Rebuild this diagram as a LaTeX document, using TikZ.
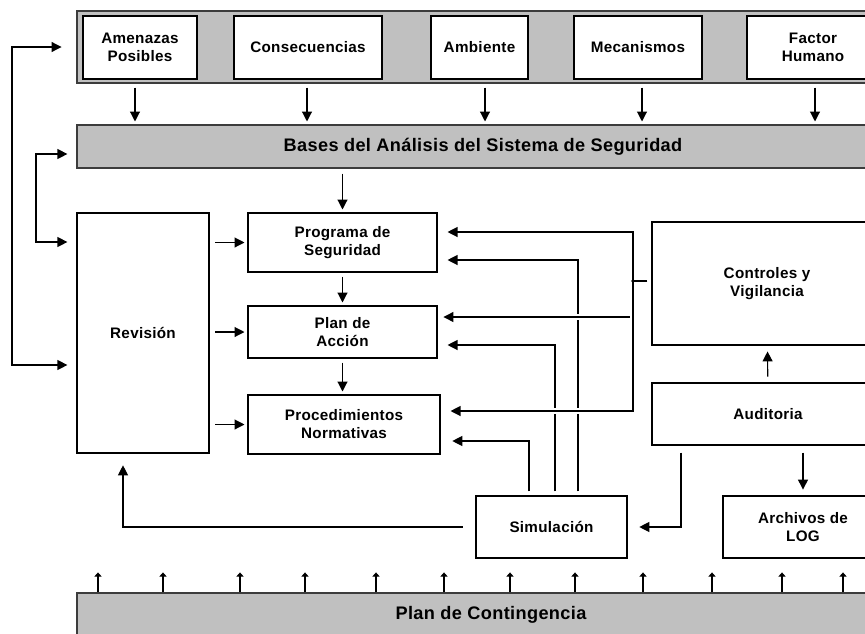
\documentclass[tikz,border=0pt]{standalone}
\usepackage{fontspec}
\setmainfont[LetterSpace=2]{Liberation Sans}
\usepackage{xcolor}
\definecolor{bandgray}{RGB}{192, 192, 192}
\definecolor{edgegray}{RGB}{60, 60, 60}
\usepackage{tikz}
\usetikzlibrary{arrows.meta, positioning, calc}

\begin{document}
\begin{tikzpicture}[x=0.03cm, y=-0.03cm, >={Triangle[length=8.5pt, width=8.5pt]},
    sz/.style 2 args={minimum width=#1*0.03cm, minimum height=#2*0.03cm},
    box/.style={draw, fill=white, line width=1pt, inner sep=0pt, align=center,
        font=\fontsize{13}{15.3}\selectfont\bfseries},
    band/.style={draw=edgegray, fill=bandgray, line width=1pt, inner sep=0pt,
        font=\fontsize{15.5}{18}\selectfont\bfseries},
    arr/.style={->, line width=1pt},
    tick/.style={-{Triangle[length=3.5pt, width=6pt]}, line width=1pt},
    hop/.style={preaction={draw=white, line width=4.5pt, -}}]
    \useasboundingbox (0,0) rectangle (865,633);
    % top row of inputs
    \node[band, sz={798}{72}] (topband) at (476,47) {};
    \node[box, sz={114}{63}] (amen) at (140,47.5) {Amenazas\\Posibles};
    \node[box, sz={148}{63}] (cons) at (308,47.5) {Consecuencias};
    \node[box, sz={97}{63}] (amb) at (479.5,47.5) {Ambiente};
    \node[box, sz={128}{63}] (mec) at (638,47.5) {Mecanismos};
    \node[box, sz={132}{63}] (fact) at (813,47.5) {Factor\\Humano};
    \node[band, sz={812}{43}] (bases) at (483,146.5) {Bases del Análisis del Sistema de Seguridad};
    % main blocks
    \node[box, sz={132}{240}] (revision) at (143,333) {Revisión};
    \node[box, sz={189}{59}] (prog) at (342.5,242.5) {Programa de\\Seguridad};
    \node[box, sz={189}{52}] (plan) at (342.5,332) {Plan de\\Acción};
    \node[box, sz={192}{59}] (proc) at (344,424.5) {Procedimientos\\Normativas};
    \node[box, sz={230}{123}] (ctrl) at (767,283.5) {Controles y\\Vigilancia};
    \node[box, sz={232}{62}] (audit) at (768,414) {Auditoria};
    \node[box, sz={151}{62}] (sim) at (551.5,527) {Simulación};
    \node[box, sz={160}{62}] (logs) at (803,527) {Archivos de\\LOG};
    \node[band, sz={828}{44}] (contin) at (491,615) {Plan de Contingencia};
    \coordinate (tap) at (633,281);

    \foreach \x in {135,307,485,642,815}
        \draw[arr, shorten <=3.4pt, shorten >=2.5pt] (\x,0 |- topband.south) -- (\x,0 |- bases.north);
    \draw[arr, shorten <=4.2pt, shorten >=2.5pt] (bases.south -| prog) -- (prog.north);
    % feedback loops on the left
    \draw[<->, line width=1pt, shorten <=12.7pt, shorten >=7.7pt] (topband.west) -| (12,365) -- (0,365 -| revision.west);
    \draw[<->, line width=1pt, shorten <=7.7pt, shorten >=7.7pt] (0,154 -| bases.west) -| (36,242) -- (0,242 -| revision.west);
    \foreach \n in {prog,plan,proc}
        \draw[arr, shorten <=5pt, shorten >=2.5pt] (revision.east |- \n.west) -- (\n.west);
    \draw[arr, shorten <=3.4pt, shorten >=2.5pt] (prog) -- (plan);
    \draw[arr, shorten <=3.4pt, shorten >=2.5pt] (plan.south) -- (plan.south |- proc.north);
    % simulacion feeds back
    \draw[arr, shorten <=3.4pt, shorten >=8.5pt] (578,0 |- sim.north) |- (0,260 -| prog.east);
    \draw[arr, shorten <=3.4pt, shorten >=8.5pt] (555,0 |- sim.north) |- (0,345 -| plan.east);
    \draw[arr, shorten <=3.4pt, shorten >=10pt] (529,0 |- sim.north) |- (0,441 -| proc.east);
    \draw[arr, shorten <=11pt, shorten >=10pt] (sim.west) -| (123,0 |- revision.south);
    % controles y vigilancia
    \draw[arr, hop, shorten >=8.5pt] (tap) |- (0,232 -| prog.east);
    \draw[arr, hop, shorten >=5pt] (tap) |- (0,317 -| plan.east);
    \draw[arr, hop, shorten >=8.5pt] (tap) |- (0,411 -| proc.east);
    \draw[line width=1pt] (0,232 -| tap) -- (0,411 -| tap);
    \draw[line width=1pt, shorten <=3.4pt] (ctrl.west |- tap) -- (tap);
    \fill (tap) circle (1.6pt);
    % auditoria
    \draw[arr, shorten <=5pt, shorten >=5pt] (audit) -- (ctrl);
    \draw[arr, shorten <=6pt, shorten >=10pt] (681,0 |- audit.south) |- (sim.east);
    \draw[arr, shorten <=6pt, shorten >=5pt] (audit.south -| logs.north) -- (logs.north);
    % plan de contingencia supports everything
    \foreach \x in {98,163,240,305,376,444,510,575,643,712,782,843}
        \draw[tick] (\x,0 |- contin.north) -- ++(0,-20);
\end{tikzpicture}
\end{document}
